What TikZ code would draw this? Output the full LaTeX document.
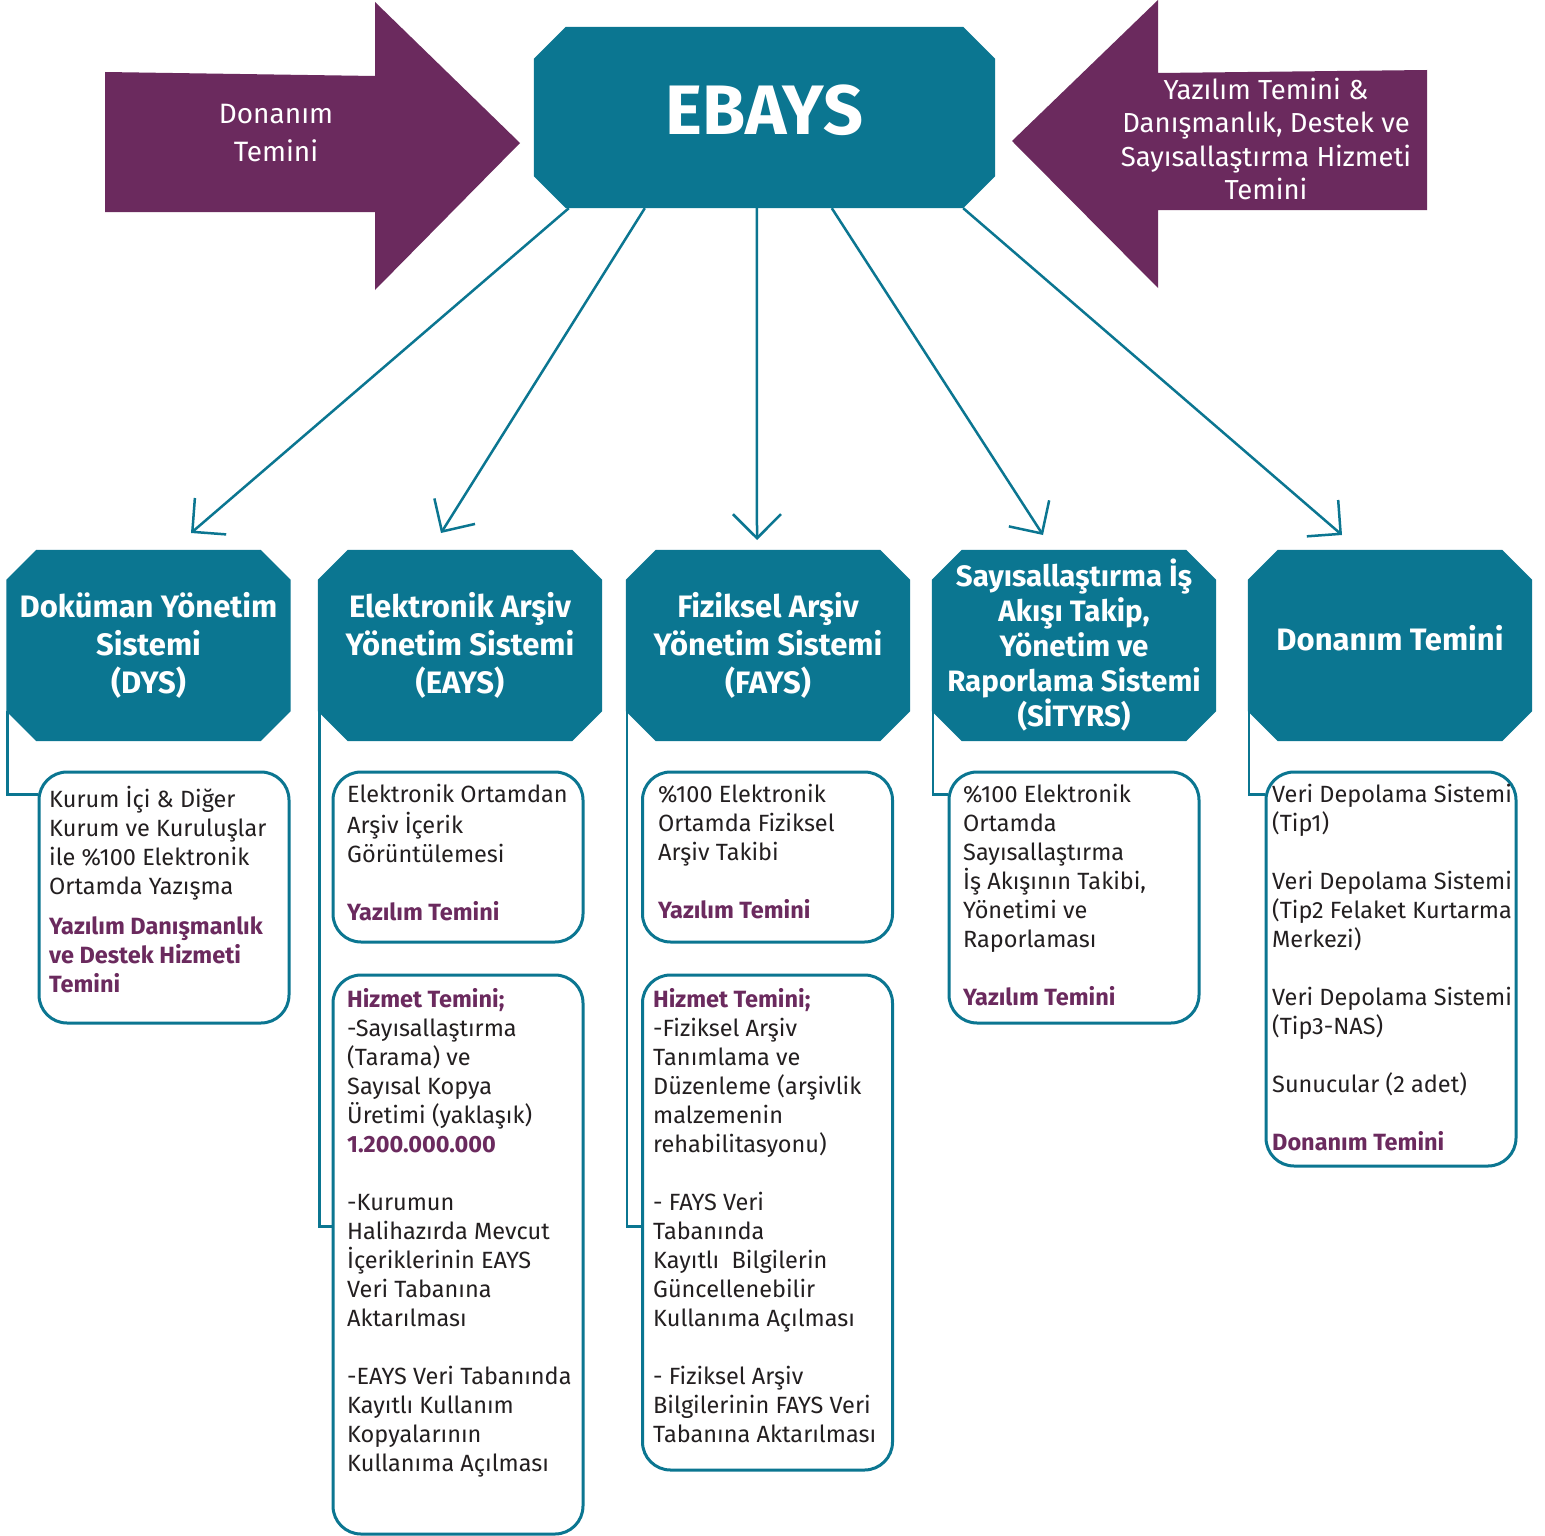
\documentclass[tikz,border=0pt]{standalone}
\usepackage{fontspec}
\setmainfont{Fira Sans}
\usetikzlibrary{arrows.meta,calc}
\definecolor{tealc}{RGB}{11,118,145}
\definecolor{plum}{RGB}{107,42,94}
\definecolor{ink}{RGB}{35,31,32}
\pgfdeclarelayer{bg}
\pgfsetlayers{bg,main}
\newcommand\octa[2]{%
  \begin{pgfonlayer}{bg}
  \fill[tealc] ([xshift=#2]#1.north west) -- ([xshift=-#2]#1.north east) -- ([yshift=-#2]#1.north east)
    -- ([yshift=#2]#1.south east) -- ([xshift=-#2]#1.south east) -- ([xshift=#2]#1.south west)
    -- ([yshift=#2]#1.south west) -- ([yshift=-#2]#1.north west) -- cycle;
  \end{pgfonlayer}}
\newcommand\pb[1]{\textcolor{plum}{\bfseries #1}}
\begin{document}
\begin{tikzpicture}[x=1pt,y=-1pt,
  head/.style={inner sep=0pt, minimum width=284pt, minimum height=191pt, text=white,
    font=\bfseries\fontsize{31}{38}\selectfont, align=center},
  box/.style={draw=tealc, line width=3pt, rounded corners=28pt, fill=white, inner sep=0pt, minimum width=250pt},
  txt/.style={anchor=north west, inner sep=0pt, align=left, text=ink, font=\fontsize{23.5}{29}\selectfont},
  conn/.style={draw=tealc, line width=2.5pt},
  arr/.style={conn, -{Straight Barb[length=24pt,width=48pt,line width=2.5pt]}},
  lbl/.style={text=white, align=center, inner sep=0pt}]
\useasboundingbox (0,0) rectangle (1545,1536);
\begin{pgfonlayer}{bg}
\fill[white] (0,0) rectangle (1545,1536);
\end{pgfonlayer}

% purple arrows
\fill[plum] (105,72) -- (375,76) -- (375,2) -- (520,143) -- (375,290) -- (375,212) -- (105,212) -- cycle;
\fill[plum] (1427,70) -- (1158,73) -- (1158,0) -- (1012,141) -- (1158,288) -- (1158,210) -- (1427,210) -- cycle;
\node[lbl, font=\fontsize{28}{38}\selectfont] (donl) at (276,133) {Donanım\\Temini};
\node[lbl, font=\fontsize{27.5}{33.5}\selectfont] (yazl) at (1266,139) {Yazılım Temini \&\\Danışmanlık, Destek ve\\Sayısallaştırma Hizmeti\\Temini};

% main
\node[inner sep=0pt, minimum width=461pt, minimum height=181pt, text=white,
  font=\bfseries\fontsize{70}{70}\selectfont] (E) at (764.5,117.5) {\raisebox{15pt}{EBAYS}};
\octa{E}{32pt}

% headings
\node[head] (dys) at (148.5,645.5) {Doküman Yönetim\\Sistemi\\(DYS)};
\node[head] (eays) at (460,645.5) {Elektronik Arşiv\\Yönetim Sistemi\\(EAYS)};
\node[head] (fays) at (768,645.5) {Fiziksel Arşiv\\Yönetim Sistemi\\(FAYS)};
\node[head, font=\bfseries\fontsize{29.5}{35}\selectfont] (sit) at (1074,645.5) {Sayısallaştırma İş\\Akışı Takip,\\Yönetim ve\\Raporlama Sistemi\\(SİTYRS)};
\node[head] (don) at (1390,645.5) {\raisebox{16pt}{Donanım Temini}};
\octa{dys}{30pt}\octa{eays}{30pt}\octa{fays}{30pt}\octa{sit}{30pt}\octa{don}{30pt}

% arrow targets
\coordinate (t1) at (191,533);
\coordinate (t2) at (441,533);
\coordinate (t3) at (757,540);
\coordinate (t4) at (1043,535);
\coordinate (t5) at (1342,535);
\draw[arr] ([xshift=35pt]E.south west) -- (t1);
\draw[arr] ([xshift=111pt]E.south west) -- (t2);
\draw[arr] ([xshift=223pt]E.south west) -- (t3);
\draw[arr] ([xshift=298pt]E.south west) -- (t4);
\draw[arr] ([xshift=-32pt]E.south east) -- (t5);

% boxes
\node[box, minimum height=251pt] (dysb) at (164,897.5) {};
\node[box, minimum height=170pt] (eaysa) at (458,857) {};
\node[box, minimum height=559pt] (eaysb) at (458,1254.5) {};
\node[box, minimum height=170pt] (faysa) at (767.5,857) {};
\node[box, minimum height=495pt] (faysb) at (767.5,1222.5) {};
\node[box, minimum height=251pt] (sitb) at (1074,897.5) {};
\node[box, minimum height=394pt] (donb) at (1391,969) {};

% elbow connectors
\draw[conn] ([xshift=1pt,yshift=30pt]dys.south west) |- ([yshift=-24pt]dysb.north west);
\draw[conn] ([xshift=1.5pt,yshift=30pt]eays.south west) |- ([yshift=-253pt]eaysb.north west);
\draw[conn] ([xshift=1pt,yshift=30pt]fays.south west) |- ([yshift=-253pt]faysb.north west);
\draw[conn] ([xshift=1pt,yshift=30pt]sit.south west) |- ([yshift=-24pt]sitb.north west);
\draw[conn] ([xshift=1pt,yshift=30pt]don.south west) |- ([yshift=-24pt]donb.north west);

% texts
\node[txt] (dyst) at (49,786) {\strut Kurum İçi \& Diğer\\Kurum ve Kuruluşlar\\ile \%100 Elektronik\\Ortamda Yazışma\\[11pt]\pb{Yazılım Danışmanlık}\\\pb{ve Destek Hizmeti}\\\pb{Temini}};
\node[txt] (eaysat) at (347,782) {\strut Elektronik Ortamdan\\Arşiv İçerik\\Görüntülemesi\\[29pt]\pb{Yazılım Temini}};
\node[txt] (eaysbt) at (347,987) {\strut\pb{Hizmet Temini;}\\-Sayısallaştırma\\(Tarama) ve\\Sayısal Kopya\\Üretimi (yaklaşık)\\\pb{1.200.000.000}\\[29pt]-Kurumun\\Halihazırda Mevcut\\İçeriklerinin EAYS\\Veri Tabanına\\Aktarılması\\[29pt]-EAYS Veri Tabanında\\Kayıtlı Kullanım\\Kopyalarının\\Kullanıma Açılması};
\node[txt] (faysat) at (658,782) {\strut\%100 Elektronik\\Ortamda Fiziksel\\Arşiv Takibi\\[29pt]\pb{Yazılım Temini}};
\node[txt] (faysbt) at (653,987) {\strut\pb{Hizmet Temini;}\\-Fiziksel Arşiv\\Tanımlama ve\\Düzenleme (arşivlik\\malzemenin\\rehabilitasyonu)\\[29pt]- FAYS Veri\\Tabanında\\Kayıtlı\ \ Bilgilerin\\Güncellenebilir\\Kullanıma Açılması\\[29pt]- Fiziksel Arşiv\\Bilgilerinin FAYS Veri\\Tabanına Aktarılması};
\node[txt] (sitt) at (963,782) {\strut\%100 Elektronik\\Ortamda\\Sayısallaştırma\\İş Akışının Takibi,\\Yönetimi ve\\Raporlaması\\[29pt]\pb{Yazılım Temini}};
\node[txt] (dont) at (1272,782) {\strut Veri Depolama Sistemi\\(Tip1)\\[29pt]Veri Depolama Sistemi\\(Tip2 Felaket Kurtarma\\Merkezi)\\[29pt]Veri Depolama Sistemi\\(Tip3-NAS)\\[29pt]Sunucular (2 adet)\\[29pt]\pb{Donanım Temini}};
\end{tikzpicture}
\end{document}
